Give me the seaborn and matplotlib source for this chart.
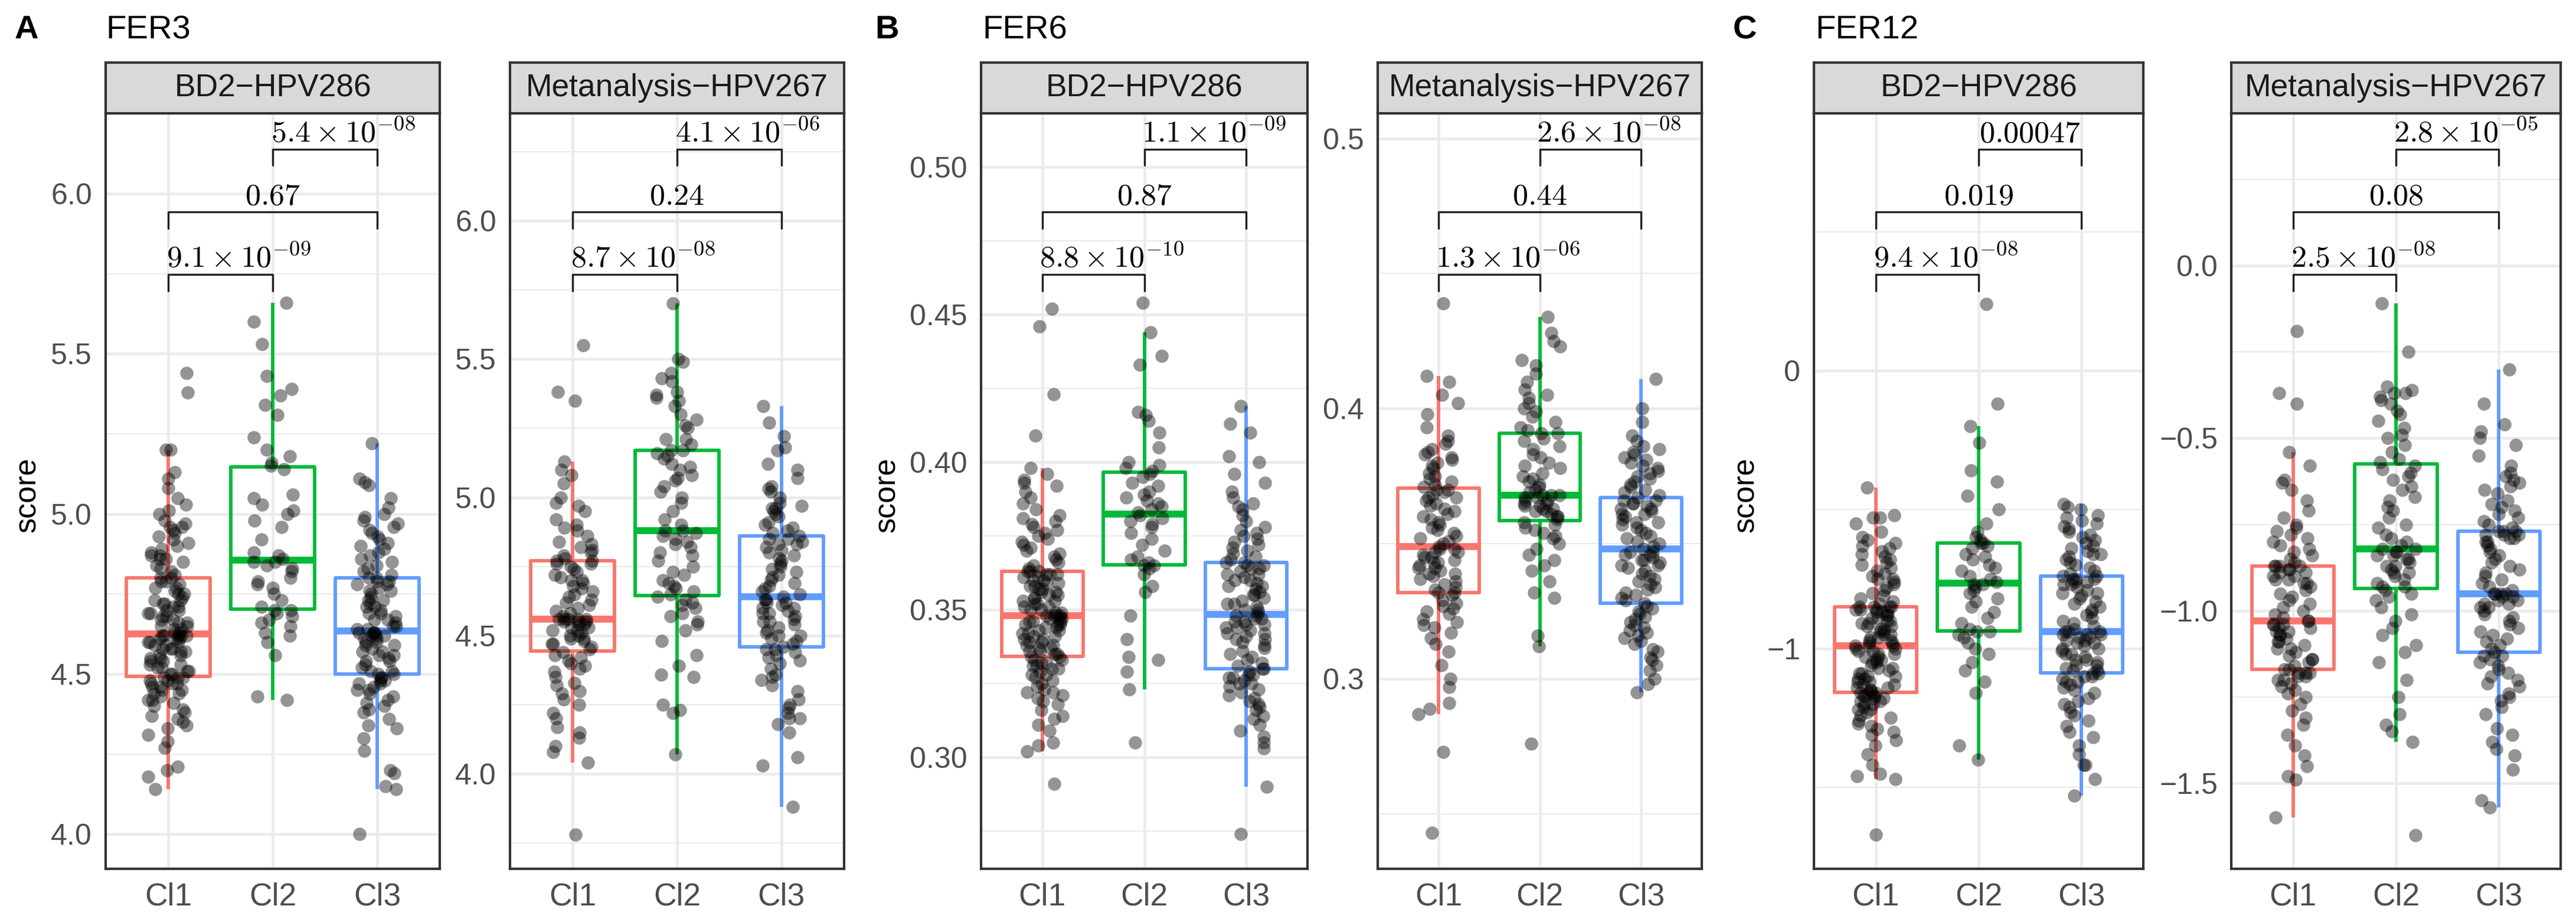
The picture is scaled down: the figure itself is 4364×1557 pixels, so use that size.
import numpy as np
import pandas as pd
import matplotlib
matplotlib.use("Agg")
import matplotlib.pyplot as plt
from matplotlib.ticker import MultipleLocator, FuncFormatter
import seaborn as sns

CLUSTERS = ["Cl1", "Cl2", "Cl3"]
COHORTS = ["BD2\u2212HPV286", "Metanalysis\u2212HPV267"]
SCORES = ["FER3", "FER6", "FER12"]
LETTERS = ["A", "B", "C"]
PALETTE = ["#F8766D", "#00BA38", "#619CFF"]
PAIRS = [(0, 1), (0, 2), (1, 2)]

# ---- FER3 ----
FER3_BD2_CL1 = [
    4.14, 4.18, 4.20, 4.21, 4.27, 4.29, 4.31, 4.33, 4.34, 4.35, 4.36, 4.37, 4.38, 4.39, 4.40, 4.41,
    4.42, 4.42, 4.43, 4.44, 4.44, 4.45, 4.45, 4.46, 4.46, 4.47, 4.47, 4.47, 4.48, 4.48, 4.49, 4.49,
    4.49, 4.50, 4.50, 4.51, 4.51, 4.52, 4.52, 4.53, 4.53, 4.54, 4.54, 4.55, 4.55, 4.56, 4.56, 4.57,
    4.57, 4.58, 4.58, 4.58, 4.59, 4.59, 4.60, 4.60, 4.60, 4.61, 4.61, 4.61, 4.62, 4.62, 4.62, 4.62, 4.62,
    4.63, 4.63, 4.64, 4.64, 4.65, 4.65, 4.66, 4.66, 4.67, 4.67, 4.68, 4.68, 4.69, 4.69, 4.70, 4.70,
    4.71, 4.71, 4.72, 4.72, 4.73, 4.73, 4.74, 4.75, 4.75, 4.76, 4.77, 4.77, 4.78, 4.79, 4.79, 4.80,
    4.80, 4.81, 4.82, 4.83, 4.84, 4.85, 4.86, 4.86, 4.87, 4.87, 4.88, 4.89, 4.90, 4.91, 4.92, 4.93,
    4.94, 4.95, 4.96, 4.96, 4.97, 4.98, 5.00, 5.01, 5.03, 5.05, 5.08, 5.11, 5.13, 5.20, 5.20, 5.38, 5.44,
]
FER3_BD2_CL2 = [
    4.42, 4.43, 4.56, 4.60, 4.62, 4.63, 4.65, 4.66, 4.67, 4.68, 4.69, 4.70,
    4.70, 4.71, 4.73, 4.75, 4.77, 4.78, 4.79, 4.80, 4.82, 4.83, 4.84, 4.85, 4.85,
    4.86, 4.87, 4.88, 4.92, 4.96, 4.98, 5.00, 5.01, 5.03, 5.05, 5.06, 5.14,
    5.15, 5.16, 5.18, 5.20, 5.24, 5.31, 5.34, 5.37, 5.39, 5.43, 5.53, 5.60, 5.66,
]
FER3_BD2_CL3 = [
    4.00, 4.14, 4.15, 4.19, 4.20, 4.26, 4.30, 4.33, 4.34, 4.36, 4.38, 4.39, 4.40, 4.41, 4.42, 4.43,
    4.44, 4.45, 4.45, 4.46, 4.47, 4.47, 4.48, 4.48, 4.49, 4.49, 4.50,
    4.50, 4.51, 4.51, 4.52, 4.53, 4.54, 4.54, 4.55, 4.56, 4.56, 4.57, 4.57, 4.58, 4.59, 4.59, 4.60,
    4.60, 4.61, 4.61, 4.62, 4.62, 4.62, 4.63, 4.63, 4.63, 4.63,
    4.64, 4.64, 4.65, 4.65, 4.66, 4.67, 4.67, 4.68, 4.69, 4.69, 4.70, 4.71, 4.71, 4.72, 4.73, 4.73,
    4.74, 4.75, 4.76, 4.76, 4.77, 4.78, 4.78, 4.79, 4.79, 4.80,
    4.80, 4.81, 4.82, 4.83, 4.84, 4.85, 4.86, 4.87, 4.88, 4.89, 4.90, 4.91, 4.92, 4.93, 4.94, 4.95,
    4.96, 4.97, 4.98, 4.99, 5.00, 5.02, 5.05, 5.09, 5.10, 5.11, 5.22,
]
FER3_META_CL1 = [
    3.78, 4.04, 4.08, 4.10, 4.13, 4.15, 4.17, 4.20, 4.22, 4.25, 4.27, 4.29, 4.30, 4.32, 4.33, 4.35,
    4.37, 4.38, 4.39, 4.40, 4.41, 4.42, 4.43, 4.44,
    4.45, 4.46, 4.47, 4.47, 4.48, 4.49, 4.49, 4.50, 4.50, 4.51, 4.52, 4.52, 4.53, 4.53, 4.54, 4.54,
    4.55, 4.55, 4.55, 4.56, 4.56, 4.56, 4.56, 4.56,
    4.57, 4.58, 4.59, 4.60, 4.61, 4.62, 4.63, 4.64, 4.65, 4.66, 4.67, 4.68, 4.69, 4.70, 4.70, 4.71,
    4.72, 4.73, 4.74, 4.75, 4.76, 4.76, 4.77,
    4.77, 4.78, 4.79, 4.80, 4.81, 4.82, 4.83, 4.84, 4.86, 4.88, 4.89, 4.90, 4.92, 4.95, 4.97, 4.98,
    5.00, 5.05, 5.08, 5.10, 5.13, 5.35, 5.38, 5.55,
]
FER3_META_CL2 = [
    4.07, 4.22, 4.23, 4.25, 4.35, 4.36, 4.39, 4.43, 4.48, 4.52, 4.54, 4.55, 4.57, 4.58, 4.60, 4.61,
    4.62, 4.63, 4.64,
    4.65, 4.66, 4.67, 4.68, 4.69, 4.70, 4.72, 4.73, 4.75, 4.77, 4.79, 4.80, 4.82, 4.83, 4.84, 4.85,
    4.86, 4.87, 4.88,
    4.88, 4.90, 4.92, 4.95, 4.98, 5.00, 5.02, 5.04, 5.06, 5.07, 5.08, 5.10, 5.11, 5.12, 5.14, 5.15,
    5.16, 5.17,
    5.17, 5.19, 5.21, 5.21, 5.25, 5.26, 5.28, 5.30, 5.33, 5.35, 5.36, 5.37, 5.38, 5.42, 5.43, 5.45,
    5.49, 5.50, 5.70,
]
FER3_META_CL3 = [
    3.88, 4.03, 4.06, 4.15, 4.18, 4.20, 4.20, 4.22, 4.24, 4.25, 4.27, 4.30, 4.32, 4.34, 4.35, 4.36,
    4.38, 4.40, 4.41, 4.42, 4.43, 4.44, 4.45, 4.45, 4.46,
    4.47, 4.48, 4.49, 4.50, 4.50, 4.51, 4.52, 4.53, 4.54, 4.55, 4.55, 4.56, 4.57, 4.58, 4.58, 4.59,
    4.60, 4.60, 4.61, 4.62, 4.62, 4.63, 4.63, 4.64,
    4.65, 4.66, 4.67, 4.68, 4.69, 4.70, 4.71, 4.72, 4.73, 4.74, 4.75, 4.76, 4.77, 4.78, 4.79, 4.80,
    4.81, 4.82, 4.83, 4.83, 4.84, 4.85, 4.85, 4.86,
    4.87, 4.88, 4.89, 4.90, 4.91, 4.93, 4.94, 4.95, 4.96, 4.96, 4.97, 4.98, 5.00, 5.02, 5.03, 5.04,
    5.07, 5.10, 5.12, 5.17, 5.18, 5.22, 5.27, 5.33,
]

# ---- FER6 ----
FER6_BD2_CL1 = [
    0.291, 0.302, 0.304, 0.305, 0.309, 0.311, 0.313, 0.314, 0.316, 0.318, 0.319, 0.320, 0.321, 0.322,
    0.322, 0.323, 0.324, 0.325, 0.326, 0.327, 0.328, 0.328, 0.329, 0.330, 0.330, 0.331, 0.331, 0.332,
    0.332, 0.333, 0.333, 0.334, 0.334,
    0.335, 0.335, 0.336, 0.336, 0.337, 0.337, 0.338, 0.338, 0.339, 0.339, 0.340, 0.340, 0.341, 0.341,
    0.342, 0.342, 0.343, 0.343, 0.344, 0.344, 0.345, 0.345, 0.345, 0.346, 0.346, 0.346, 0.347, 0.347,
    0.347, 0.348, 0.348, 0.348,
    0.348, 0.349, 0.349, 0.350, 0.350, 0.351, 0.351, 0.352, 0.352, 0.353, 0.353, 0.354, 0.354, 0.355,
    0.355, 0.356, 0.356, 0.357, 0.357, 0.358, 0.358, 0.359, 0.359, 0.360, 0.360, 0.361, 0.361, 0.362,
    0.362, 0.362, 0.363, 0.363,
    0.363, 0.364, 0.365, 0.366, 0.367, 0.368, 0.369, 0.370, 0.371, 0.372, 0.373, 0.374, 0.375, 0.376,
    0.377, 0.378, 0.379, 0.380, 0.381, 0.382, 0.384, 0.386, 0.388, 0.390, 0.392, 0.393, 0.394, 0.396,
    0.398, 0.409, 0.423, 0.446, 0.452,
]
FER6_BD2_CL2 = [
    0.305, 0.323, 0.329, 0.333, 0.334, 0.340, 0.348, 0.356, 0.358, 0.362, 0.364, 0.365, 0.365,
    0.366, 0.367, 0.368, 0.370, 0.372, 0.374, 0.376, 0.378, 0.379, 0.380, 0.381, 0.382,
    0.383, 0.384, 0.385, 0.386, 0.387, 0.388, 0.389, 0.390, 0.392, 0.393, 0.395, 0.396,
    0.397, 0.398, 0.399, 0.400, 0.405, 0.410, 0.414, 0.416, 0.417, 0.433, 0.436, 0.444, 0.454,
]
FER6_BD2_CL3 = [
    0.274, 0.290, 0.303, 0.305, 0.307, 0.309, 0.311, 0.313, 0.314, 0.316, 0.317, 0.318, 0.319, 0.320,
    0.321, 0.322, 0.323, 0.324, 0.325, 0.325, 0.326, 0.327, 0.327, 0.328, 0.328, 0.329, 0.330,
    0.330, 0.331, 0.332, 0.333, 0.334, 0.335, 0.336, 0.337, 0.338, 0.339, 0.340, 0.340, 0.341, 0.342,
    0.342, 0.343, 0.344, 0.344, 0.345, 0.345, 0.346, 0.346, 0.347, 0.347, 0.348, 0.348,
    0.349, 0.350, 0.350, 0.351, 0.352, 0.352, 0.353, 0.354, 0.355, 0.355, 0.356, 0.357, 0.358, 0.358,
    0.359, 0.360, 0.360, 0.361, 0.362, 0.362, 0.363, 0.364, 0.364, 0.365, 0.365, 0.366,
    0.366, 0.367, 0.368, 0.369, 0.370, 0.371, 0.372, 0.373, 0.374, 0.375, 0.376, 0.377, 0.378, 0.380,
    0.382, 0.384, 0.385, 0.386, 0.388, 0.390, 0.393, 0.396, 0.400, 0.402, 0.410, 0.413, 0.419,
]
FER6_META_CL1 = [
    0.243, 0.273, 0.287, 0.289, 0.291, 0.297, 0.300, 0.305, 0.310, 0.313, 0.315, 0.317, 0.319, 0.320,
    0.321, 0.322, 0.324, 0.325, 0.326, 0.327, 0.328, 0.329, 0.331, 0.332,
    0.332, 0.333, 0.334, 0.335, 0.336, 0.337, 0.338, 0.339, 0.339, 0.340, 0.341, 0.341, 0.342, 0.343,
    0.343, 0.344, 0.345, 0.345, 0.346, 0.347, 0.347, 0.348, 0.348, 0.349,
    0.350, 0.351, 0.352, 0.353, 0.354, 0.355, 0.356, 0.357, 0.358, 0.359, 0.360, 0.361, 0.362, 0.363,
    0.364, 0.365, 0.366, 0.367, 0.367, 0.368, 0.369, 0.370, 0.370,
    0.371, 0.372, 0.373, 0.374, 0.375, 0.376, 0.378, 0.379, 0.380, 0.381, 0.382, 0.383, 0.384, 0.385,
    0.387, 0.388, 0.390, 0.393, 0.398, 0.402, 0.405, 0.410, 0.412, 0.439,
]
FER6_META_CL2 = [
    0.276, 0.312, 0.316, 0.330, 0.332, 0.336, 0.340, 0.342, 0.344, 0.346, 0.348, 0.350, 0.352, 0.353,
    0.354, 0.355, 0.356, 0.357, 0.358,
    0.359, 0.360, 0.360, 0.361, 0.362, 0.362, 0.363, 0.363, 0.364, 0.364, 0.365, 0.365, 0.366, 0.366,
    0.367, 0.367, 0.368, 0.368, 0.368,
    0.369, 0.370, 0.371, 0.372, 0.373, 0.374, 0.375, 0.376, 0.378, 0.379, 0.380, 0.382, 0.383, 0.385,
    0.386, 0.388, 0.389, 0.391,
    0.391, 0.392, 0.393, 0.395, 0.397, 0.399, 0.400, 0.402, 0.404, 0.405, 0.407, 0.410, 0.413, 0.416,
    0.418, 0.423, 0.425, 0.428, 0.434,
]
FER6_META_CL3 = [
    0.295, 0.298, 0.300, 0.303, 0.305, 0.307, 0.308, 0.310, 0.311, 0.313, 0.314, 0.315, 0.316, 0.317,
    0.318, 0.319, 0.320, 0.321, 0.322, 0.323, 0.324, 0.325, 0.326, 0.327, 0.328,
    0.329, 0.330, 0.331, 0.332, 0.333, 0.334, 0.335, 0.336, 0.337, 0.338, 0.339, 0.340, 0.341, 0.342,
    0.342, 0.343, 0.344, 0.344, 0.345, 0.346, 0.346, 0.347, 0.347, 0.348,
    0.349, 0.350, 0.351, 0.352, 0.353, 0.354, 0.355, 0.356, 0.357, 0.358, 0.358, 0.359, 0.360, 0.361,
    0.361, 0.362, 0.363, 0.363, 0.364, 0.365, 0.365, 0.366, 0.366, 0.367,
    0.368, 0.369, 0.370, 0.371, 0.372, 0.373, 0.374, 0.375, 0.376, 0.377, 0.378, 0.379, 0.380, 0.381,
    0.382, 0.383, 0.384, 0.385, 0.386, 0.388, 0.390, 0.395, 0.400, 0.411,
]

# ---- FER12 ----
FER12_BD2_CL1 = [
    -1.67, -1.47, -1.46, -1.45, -1.42, -1.38, -1.35, -1.33, -1.31, -1.30, -1.29, -1.28, -1.27, -1.26,
    -1.25, -1.24, -1.23, -1.22, -1.22, -1.21, -1.20, -1.20, -1.19, -1.19, -1.18, -1.18, -1.17, -1.17,
    -1.17, -1.16, -1.16, -1.16, -1.16,
    -1.15, -1.15, -1.14, -1.14, -1.13, -1.13, -1.12, -1.12, -1.11, -1.11, -1.10, -1.10, -1.09, -1.09,
    -1.08, -1.07, -1.07, -1.06, -1.05, -1.05, -1.04, -1.04, -1.03, -1.03, -1.02, -1.02, -1.01, -1.01,
    -1.00, -1.00, -0.99, -0.99,
    -0.99, -0.98, -0.98, -0.97, -0.97, -0.96, -0.96, -0.95, -0.95, -0.94, -0.94, -0.93, -0.93, -0.92,
    -0.92, -0.91, -0.91, -0.90, -0.90, -0.89, -0.89, -0.88, -0.88, -0.87, -0.87, -0.87, -0.86, -0.86,
    -0.86, -0.85, -0.85, -0.85,
    -0.85, -0.84, -0.83, -0.82, -0.81, -0.80, -0.79, -0.78, -0.77, -0.76, -0.75, -0.75, -0.74, -0.73,
    -0.72, -0.71, -0.70, -0.69, -0.68, -0.67, -0.66, -0.65, -0.64, -0.63, -0.62, -0.61, -0.60, -0.58,
    -0.55, -0.53, -0.53, -0.52, -0.42,
]
FER12_BD2_CL2 = [
    -1.40, -1.35, -1.16, -1.12, -1.08, -1.05, -1.02, -1.00, -0.98, -0.96, -0.95, -0.94, -0.94,
    -0.93, -0.91, -0.89, -0.87, -0.85, -0.83, -0.82, -0.80, -0.79, -0.78, -0.77, -0.77,
    -0.76, -0.75, -0.74, -0.72, -0.71, -0.70, -0.68, -0.67, -0.66, -0.64, -0.63, -0.62,
    -0.62, -0.61, -0.60, -0.58, -0.55, -0.50, -0.45, -0.40, -0.36, -0.26, -0.20, -0.12, 0.24,
]
FER12_BD2_CL3 = [
    -1.53, -1.47, -1.42, -1.42, -1.38, -1.35, -1.32, -1.30, -1.28, -1.26, -1.24, -1.23, -1.21, -1.20,
    -1.19, -1.18, -1.16, -1.15, -1.14, -1.13, -1.12, -1.12, -1.11, -1.10, -1.10, -1.09, -1.09,
    -1.08, -1.08, -1.07, -1.06, -1.06, -1.05, -1.04, -1.04, -1.03, -1.02, -1.02, -1.01, -1.00, -1.00,
    -0.99, -0.98, -0.98, -0.97, -0.97, -0.96, -0.96, -0.95, -0.95, -0.95, -0.94, -0.94,
    -0.94, -0.93, -0.92, -0.91, -0.90, -0.89, -0.88, -0.87, -0.86, -0.85, -0.84, -0.83, -0.82, -0.81,
    -0.80, -0.80, -0.79, -0.78, -0.77, -0.77, -0.76, -0.76, -0.75, -0.75, -0.75, -0.74,
    -0.74, -0.73, -0.72, -0.71, -0.70, -0.69, -0.68, -0.67, -0.66, -0.66, -0.65, -0.64, -0.63, -0.62,
    -0.61, -0.60, -0.59, -0.58, -0.57, -0.56, -0.55, -0.54, -0.53, -0.52, -0.50, -0.49, -0.48,
]
FER12_META_CL1 = [
    -1.60, -1.49, -1.48, -1.45, -1.42, -1.39, -1.36, -1.33, -1.31, -1.29, -1.27, -1.25, -1.24, -1.23,
    -1.22, -1.21, -1.20, -1.20, -1.19, -1.19, -1.18, -1.18, -1.18, -1.17,
    -1.17, -1.16, -1.15, -1.14, -1.14, -1.13, -1.12, -1.11, -1.11, -1.10, -1.09, -1.09, -1.08, -1.07,
    -1.07, -1.06, -1.06, -1.05, -1.05, -1.04, -1.04, -1.04, -1.03, -1.03,
    -1.02, -1.01, -1.00, -0.99, -0.98, -0.97, -0.96, -0.95, -0.94, -0.93, -0.92, -0.92, -0.91, -0.91,
    -0.90, -0.90, -0.89, -0.89, -0.88, -0.88, -0.87, -0.87, -0.87,
    -0.87, -0.86, -0.85, -0.84, -0.83, -0.82, -0.81, -0.80, -0.79, -0.78, -0.77, -0.76, -0.75, -0.73,
    -0.71, -0.68, -0.65, -0.63, -0.62, -0.58, -0.54, -0.40, -0.37, -0.19,
]
FER12_META_CL2 = [
    -1.65, -1.38, -1.35, -1.33, -1.30, -1.25, -1.20, -1.15, -1.12, -1.10, -1.07, -1.05, -1.03, -1.01,
    -0.99, -0.97, -0.96, -0.95, -0.94,
    -0.93, -0.93, -0.92, -0.91, -0.90, -0.89, -0.89, -0.88, -0.87, -0.87, -0.86, -0.85, -0.85, -0.84,
    -0.84, -0.83, -0.83, -0.82, -0.82,
    -0.81, -0.80, -0.79, -0.78, -0.76, -0.75, -0.73, -0.71, -0.70, -0.68, -0.67, -0.65, -0.64, -0.62,
    -0.61, -0.60, -0.59, -0.58,
    -0.57, -0.56, -0.54, -0.52, -0.50, -0.49, -0.47, -0.45, -0.43, -0.42, -0.40, -0.39, -0.38, -0.37,
    -0.37, -0.36, -0.35, -0.25, -0.11,
]
FER12_META_CL3 = [
    -1.57, -1.55, -1.46, -1.42, -1.40, -1.38, -1.36, -1.34, -1.30, -1.28, -1.26, -1.25, -1.24, -1.22,
    -1.21, -1.20, -1.19, -1.18, -1.17, -1.16, -1.15, -1.14, -1.13, -1.13, -1.12,
    -1.11, -1.10, -1.09, -1.08, -1.07, -1.06, -1.05, -1.04, -1.03, -1.02, -1.01, -1.00, -0.99, -0.99,
    -0.98, -0.98, -0.97, -0.97, -0.96, -0.96, -0.95, -0.95, -0.95, -0.95,
    -0.94, -0.93, -0.92, -0.91, -0.90, -0.89, -0.88, -0.87, -0.86, -0.85, -0.84, -0.83, -0.82, -0.81,
    -0.80, -0.80, -0.79, -0.79, -0.78, -0.78, -0.78, -0.77, -0.77, -0.77,
    -0.76, -0.75, -0.74, -0.73, -0.72, -0.71, -0.70, -0.69, -0.68, -0.66, -0.65, -0.64, -0.63, -0.62,
    -0.61, -0.60, -0.58, -0.55, -0.52, -0.50, -0.48, -0.46, -0.40, -0.30,
]

# p-values for Cl1-Cl2, Cl1-Cl3, Cl2-Cl3
P_FER3_BD2 = ["9.1e-09", "0.67", "5.4e-08"]
P_FER3_META = ["8.7e-08", "0.24", "4.1e-06"]
P_FER6_BD2 = ["8.8e-10", "0.87", "1.1e-09"]
P_FER6_META = ["1.3e-06", "0.44", "2.6e-08"]
P_FER12_BD2 = ["9.4e-08", "0.019", "0.00047"]
P_FER12_META = ["2.5e-08", "0.08", "2.8e-05"]

PANEL_DATA = [
    ([FER3_BD2_CL1, FER3_BD2_CL2, FER3_BD2_CL3], P_FER3_BD2),
    ([FER3_META_CL1, FER3_META_CL2, FER3_META_CL3], P_FER3_META),
    ([FER6_BD2_CL1, FER6_BD2_CL2, FER6_BD2_CL3], P_FER6_BD2),
    ([FER6_META_CL1, FER6_META_CL2, FER6_META_CL3], P_FER6_META),
    ([FER12_BD2_CL1, FER12_BD2_CL2, FER12_BD2_CL3], P_FER12_BD2),
    ([FER12_META_CL1, FER12_META_CL2, FER12_META_CL3], P_FER12_META),
]

# layout (pixels of a 4364x1557 canvas), y limits and tick steps per panel
W, H = 4364, 1557
AX_LEFT = [179, 864, 1662, 2334, 3073, 3780]
AX_RIGHT = [745, 1430, 2215, 2883, 3631, 4338]
PLOT_TOP, PLOT_BOT, STRIP_TOP = 192, 1472, 106
YLIMS = [(3.892, 6.251), (3.657, 6.388), (0.2623, 0.5183), (0.2297, 0.5093),
         (-1.793, 0.926), (-1.748, 0.4417)]
YSTEP = [0.5, 0.5, 0.05, 0.1, 1.0, 0.5]
YDEC = [1, 1, 2, 1, 0, 1]
LETTER_X = [25, 1482, 2936]
TITLE_X = [179, 1664, 3075]
YLAB_X = [47, 1503, 2958]

BRACKET_Y = [0.7867, 0.8697, 0.9527]
TIP = 0.0217

sns.set_theme(style="white")
plt.rcParams["font.family"] = ["Liberation Sans", "DejaVu Sans"]
plt.rcParams["mathtext.fontset"] = "cm"
np.random.seed(11)


def p_label(s):
    if "e" in s:
        m, e = s.split("e")
        return rf"${m}\times10^{{{e}}}$", 7.5
    return f"${s}$", 0.0


def fmt_factory(dec):
    def f(v, pos):
        if abs(v) < 1e-9:
            v = 0.0
        return f"{v:.{dec}f}".replace("-", "\u2212")
    return FuncFormatter(f)


fig = plt.figure(figsize=(W / 300, H / 300), dpi=300)
fig.patch.set_facecolor("white")

for k, (groups, pvals) in enumerate(PANEL_DATA):
    x0 = AX_LEFT[k] / W
    w = (AX_RIGHT[k] - AX_LEFT[k]) / W
    b = (H - PLOT_BOT) / H
    h = (PLOT_BOT - PLOT_TOP) / H
    ax = fig.add_axes([x0, b, w, h])

    df = pd.DataFrame({
        "cluster": np.repeat(CLUSTERS, [len(g) for g in groups]),
        "score": np.concatenate([np.asarray(g, float) for g in groups]),
    })
    sns.boxplot(data=df, x="cluster", y="score", hue="cluster", order=CLUSTERS,
                hue_order=CLUSTERS, palette=PALETTE, fill=False, width=0.8,
                showfliers=False, showcaps=False, linewidth=1.4,
                medianprops={"linewidth": 2.8}, legend=False, ax=ax)
    sns.stripplot(data=df, x="cluster", y="score", order=CLUSTERS, color="black",
                  alpha=0.42, jitter=0.2, size=5.4, linewidth=0, ax=ax, zorder=3)

    ax.set_xlim(-0.6, 2.6)
    ax.set_ylim(*YLIMS[k])
    ax.yaxis.set_major_locator(MultipleLocator(YSTEP[k]))
    ax.yaxis.set_minor_locator(MultipleLocator(YSTEP[k] / 2))
    ax.yaxis.set_major_formatter(fmt_factory(YDEC[k]))
    ax.set_xlabel("")
    ax.set_ylabel("")
    ax.set_axisbelow(True)
    ax.grid(True, which="major", color="#EBEBEB", lw=1.1)
    ax.grid(True, which="minor", axis="y", color="#EBEBEB", lw=0.55)
    ax.tick_params(axis="both", which="major", length=2.9, width=1.0, color="#333333",
                   labelcolor="#4D4D4D", labelsize=12, pad=2.6)
    ax.tick_params(axis="x", labelsize=12.8)
    ax.tick_params(which="minor", length=0)
    for s in ax.spines.values():
        s.set_color("#333333")
        s.set_linewidth(1.0)

    trans = ax.get_xaxis_transform()
    for (i, j), yb, lab in zip(PAIRS, BRACKET_Y, pvals):
        ax.plot([i, i, j, j], [yb - TIP, yb, yb, yb - TIP], transform=trans,
                color="#222222", lw=0.8, clip_on=False, zorder=4)
        text, dx = p_label(lab)
        ax.annotate(text, xy=((i + j) / 2, yb), xycoords=trans, xytext=(dx, 2.8),
                    textcoords="offset points", ha="center", va="baseline",
                    fontsize=12.5, color="black", zorder=5)

    # facet strip
    sb = (H - PLOT_TOP) / H
    sh = (PLOT_TOP - STRIP_TOP) / H
    sax = fig.add_axes([x0, sb, w, sh])
    sax.set_facecolor("#D9D9D9")
    sax.set_xticks([])
    sax.set_yticks([])
    for s in sax.spines.values():
        s.set_color("#333333")
        s.set_linewidth(1.0)
    sax.text(0.5, 0.5, COHORTS[k % 2], ha="center", va="center", fontsize=12.8,
             color="#1A1A1A", transform=sax.transAxes)

for g in range(3):
    fig.text(LETTER_X[g] / W, 1 - 51 / H, LETTERS[g], ha="left", va="center",
             fontsize=13.5, fontweight="bold", color="black")
    fig.text(TITLE_X[g] / W, 1 - 51 / H, SCORES[g], ha="left", va="center",
             fontsize=13.5, color="black")
    fig.text(YLAB_X[g] / W, 1 - 838 / H, "score", ha="center", va="center",
             rotation=90, fontsize=12.5, color="black")

fig.savefig("out.png", dpi=300)
